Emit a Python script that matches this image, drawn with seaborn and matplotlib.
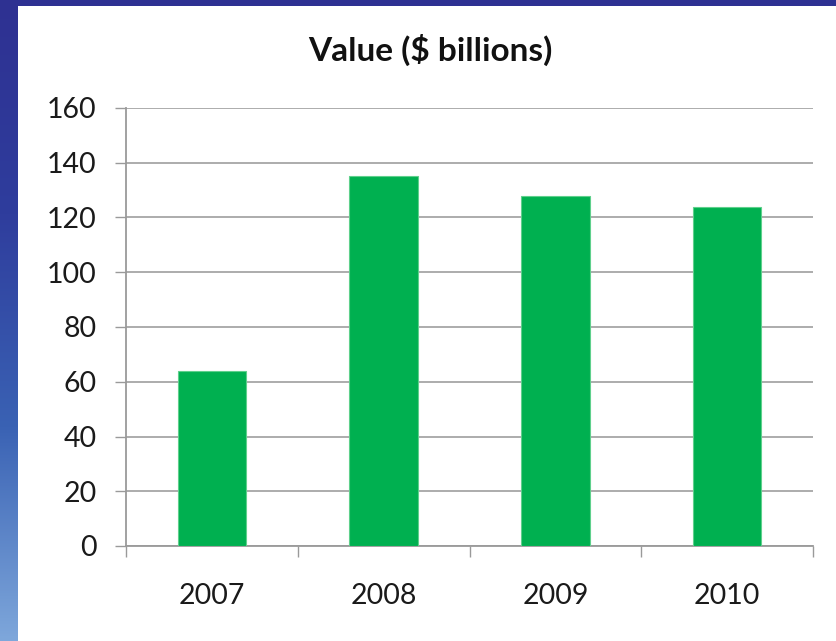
import matplotlib
matplotlib.use("Agg")
import matplotlib.pyplot as plt
import seaborn as sns
import numpy as np
import pandas as pd
from matplotlib.colors import LinearSegmentedColormap

years = ["2007", "2008", "2009", "2010"]
values = [64, 135, 128, 124]
title = "Value ($ billions)"
yticks = [0, 20, 40, 60, 80, 100, 120, 140, 160]

sns.set_theme(style="white")
plt.rcParams['font.family'] = ['Lato', 'DejaVu Sans']

W, H = 836, 641
fig = plt.figure(figsize=(W / 100, H / 100), dpi=100)
fig.patch.set_facecolor("white")

# blue frame: left gradient strip and top band
strip = fig.add_axes([0, 0, 18 / W, 1])
cmap = LinearSegmentedColormap.from_list("b", ["#2e3192", "#2f3d9d", "#3a62b4", "#7ea7db"])
grad = np.linspace(0, 1, 256).reshape(-1, 1)
strip.imshow(grad, aspect="auto", cmap=cmap, extent=[0, 1, 1, 0])
strip.set_axis_off()
top = fig.add_axes([0, 1 - 6 / H, 1, 6 / H])
top.set_facecolor("#2e3192")
top.set_xticks([]); top.set_yticks([])
for s in top.spines.values():
    s.set_visible(False)

ax = fig.add_axes([126 / W, 1 - 546 / H, (813 - 126) / W, (546 - 108) / H])
df = pd.DataFrame({"year": years, "value": values})
sns.barplot(data=df, x="year", y="value", color="#00b050", saturation=1,
            width=0.4, edgecolor="#5fd08c", linewidth=0.8, ax=ax, zorder=3)
for p in ax.patches:
    p.set_zorder(3)

ax.set_xlim(-0.5, 3.5)
ax.set_ylim(0, 160)
ax.set_yticks(yticks)
ax.set_yticklabels([str(v) for v in yticks])
ax.set_xlabel("")
ax.set_ylabel("")
ax.yaxis.grid(True, color="#a6a6a6", linewidth=1.3, zorder=0)
ax.set_axisbelow(True)
for s in ["top", "right"]:
    ax.spines[s].set_visible(False)
for s in ["left", "bottom"]:
    ax.spines[s].set_color("#9a9a9a")
    ax.spines[s].set_linewidth(1.3)

ax.tick_params(axis="y", which="major", length=8, width=1.0, color="#9a9a9a",
               labelsize=20.5, pad=13, left=True)
ax.set_xticks([-0.5, 0.5, 1.5, 2.5, 3.5], minor=True)
ax.tick_params(axis="x", which="minor", length=8, width=1.0, color="#9a9a9a", bottom=True)
ax.tick_params(axis="x", which="major", length=0, labelsize=20.5, pad=27)
for lbl in ax.get_xticklabels() + ax.get_yticklabels():
    lbl.set_color("#1a1a1a")

fig.text(430 / W, 1 - 50 / H, title, ha="center", va="center",
         fontsize=24, fontweight="bold", color="#111111")

fig.savefig("out.png", dpi=100, facecolor="white")
